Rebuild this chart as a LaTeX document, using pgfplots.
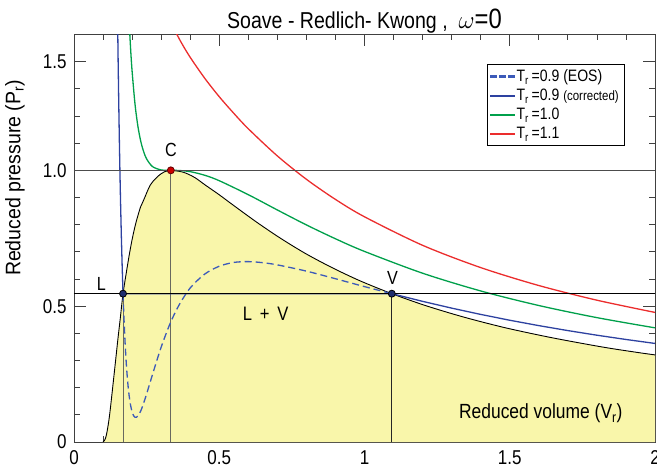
\documentclass[border=0pt]{standalone}
\usepackage{fontspec}
\setmainfont{Liberation Sans}[FakeStretch=0.85]
\newfontfamily\ylabfont{Liberation Sans}[FakeStretch=0.93]
\usepackage{pgfplots}
\pgfplotsset{compat=1.18}

\definecolor{eosblue}{RGB}{60,90,185}
\definecolor{corrblue}{RGB}{45,65,160}
\definecolor{isogreen}{RGB}{0,160,75}
\definecolor{isored}{RGB}{235,45,45}
\definecolor{domefill}{RGB}{249,246,170}
\definecolor{guide}{RGB}{105,105,95}
\definecolor{navy}{RGB}{30,45,110}

\begin{document}
\begin{tikzpicture}
  \begin{axis}[
      scale only axis, width=581pt, height=407.5pt,
      xmin=0, xmax=2, ymin=0, ymax=1.5,
      xtick={0,0.5,1,1.5,2}, minor x tick num=4,
      ytick={0,0.5,1,1.4}, yticklabels={0,0.5,1.0,1.5},
      minor ytick={0.1,0.2,0.3,0.4,0.6,0.7,0.8,0.9,1.1,1.2,1.3},
      tick align=inside,
      major tick length=12pt, minor tick length=6pt,
      every tick/.style={black!75, line width=0.8pt},
      axis line style={black!75, line width=0.9pt},
      tick label style={font=\fontsize{20}{24}\selectfont},
      /pgf/number format/assume math mode=true,
      xticklabel style={yshift=-5pt},
      yticklabel style={xshift=-4pt},
      title={Soave - Redlich- Kwong ,\ \ {\fontsize{28}{30}\selectfont$\omega$=0}},
      title style={font=\fontsize{23}{26}\selectfont, yshift=-8pt},
      legend style={at={(0.9466,0.9265)}, anchor=north east,
        font=\fontsize{16.5}{18}\selectfont,
        inner xsep=3pt, inner ysep=3pt, row sep=2pt, cells={anchor=west}},
      clip mode=individual,
    ]
    % legend samples
    \addlegendimage{legend image code/.code={
        \fill[eosblue] (0pt,-0.7pt) rectangle (6pt,0.7pt)
          (9pt,-0.7pt) rectangle (15pt,0.7pt) (18pt,-0.7pt) rectangle (24pt,0.7pt);}}
    \addlegendentry{T\textsubscript{r}\,=0.9 (EOS)}
    \addlegendimage{legend image code/.code={\fill[corrblue] (0pt,-0.7pt) rectangle (24pt,0.7pt);}}
    \addlegendentry{T\textsubscript{r}\,=0.9 {\fontsize{13.5}{15}\selectfont(corrected)}}
    \addlegendimage{legend image code/.code={\fill[isogreen] (0pt,-0.7pt) rectangle (24pt,0.7pt);}}
    \addlegendentry{T\textsubscript{r}\,=1.0}
    \addlegendimage{legend image code/.code={\fill[isored] (0pt,-0.7pt) rectangle (24pt,0.7pt);}}
    \addlegendentry{T\textsubscript{r}\,=1.1}

    % two-phase region (saturation dome)
    \pgfplotstableread{
      v p
      0.1000 0.0000
      0.1046 0.0047
      0.1120 0.0280
      0.1226 0.1000
      0.1388 0.2563
      0.1511 0.3784
      0.1591 0.4530
      0.1688 0.5460
      0.1820 0.6360
      0.1901 0.6880
      0.2000 0.7450
      0.2124 0.8040
      0.2290 0.8650
      0.2400 0.8910
      0.2620 0.9450
      0.2830 0.9720
      0.2980 0.9860
      0.3110 0.9945
      0.3333 1.0000
      0.3710 0.9945
      0.3930 0.9860
      0.4180 0.9720
      0.4530 0.9450
      0.5000 0.9100
      0.5530 0.8680
      0.6325 0.8064
      0.7130 0.7485
      0.7970 0.6937
      0.8880 0.6420
      0.9850 0.5931
      1.0940 0.5460
      1.2100 0.5022
      1.3390 0.4606
      1.4810 0.4214
      1.6420 0.3845
      1.8180 0.3498
      1.9375 0.3300
      2.0000 0.3206
    }\dome
    \addplot[draw=none, fill=domefill, forget plot] table[x=v, y=p] {\dome} \closedcycle;
    \addplot[black, line width=0.9pt, smooth, forget plot] table[x=v, y=p] {\dome};

    % guide lines
    \addplot[guide, line width=1pt, forget plot] coordinates {(0.1688,0) (0.1688,0.546)};
    \addplot[guide, line width=1pt, forget plot] coordinates {(0.3333,0) (0.3333,1.0)};
    \addplot[black!85, line width=1pt, forget plot] coordinates {(1.094,0) (1.094,0.546)};

    % isotherms
    \addplot[eosblue, dash pattern=on 7pt off 4pt, line width=1.3pt, smooth, forget plot] coordinates {
      (0.1688,0.546) (0.170,0.510) (0.175,0.384) (0.180,0.289) (0.185,0.219)
      (0.190,0.169) (0.195,0.134) (0.200,0.111) (0.205,0.097) (0.210,0.091)
      (0.215,0.091) (0.220,0.096) (0.230,0.115) (0.240,0.144) (0.250,0.177)
      (0.275,0.265) (0.300,0.349) (0.330,0.434) (0.360,0.501) (0.400,0.567)
      (0.450,0.618) (0.500,0.647) (0.550,0.661) (0.600,0.664) (0.650,0.660)
      (0.700,0.652) (0.800,0.629) (0.900,0.601) (1.000,0.572) (1.094,0.546)};
    \addplot[corrblue, line width=1.3pt, forget plot] coordinates {
      (0.150,1.561) (0.152,1.397) (0.154,1.251) (0.156,1.119) (0.158,1.001)
      (0.160,0.895) (0.163,0.757) (0.166,0.640) (0.1688,0.546) (1.094,0.546)
      (1.2,0.5177) (1.3,0.4928) (1.4,0.4696) (1.5,0.4482) (1.6,0.4284)
      (1.7,0.4101) (1.8,0.3931) (1.9,0.3774) (2.0,0.3628)};
    \addplot[isogreen, line width=1.3pt, smooth, forget plot] coordinates {
      (0.190,1.542) (0.195,1.445) (0.200,1.365) (0.210,1.244) (0.220,1.162)
      (0.230,1.106) (0.240,1.068) (0.250,1.042) (0.270,1.014) (0.300,1.0015)
      (0.3333,1.000) (0.360,0.9996) (0.400,0.9951) (0.450,0.9819) (0.500,0.9618)
      (0.600,0.9104) (0.700,0.8541) (0.800,0.7991) (0.900,0.7481) (1.000,0.7015)
      (1.200,0.6213) (1.400,0.5560) (1.600,0.5024) (1.800,0.4578) (2.000,0.4202)};
    \addplot[isored, line width=1.3pt, smooth, forget plot] coordinates {
      (0.350,1.509) (0.370,1.469) (0.400,1.416) (0.450,1.339) (0.500,1.271)
      (0.550,1.210) (0.600,1.153) (0.700,1.053) (0.800,0.967) (0.900,0.893)
      (1.000,0.829) (1.200,0.724) (1.400,0.642) (1.600,0.576) (1.800,0.522)
      (2.000,0.477)};

    % critical pressure and tie line
    \addplot[black!70, line width=1pt, forget plot] coordinates {(0,1.0) (2,1.0)};
    \addplot[black, line width=1pt, forget plot] coordinates {(0,0.546) (2,0.546)};

    % points C, L, V
    \addplot[only marks, mark=*, mark size=3.5pt, forget plot,
      mark options={fill=red!80!black, draw=black!60!red, line width=0.8pt}]
      coordinates {(0.3333,1.0)};
    \addplot[only marks, mark=*, mark size=3.5pt, forget plot,
      mark options={fill=navy, draw=black, line width=0.8pt}]
      coordinates {(0.1688,0.546) (1.094,0.546)};

    \node[anchor=base, font=\fontsize{19}{22}\selectfont] at (axis cs:0.334,1.050) {C};
    \node[anchor=base, font=\fontsize{19}{22}\selectfont] at (axis cs:0.094,0.559) {L};
    \node[anchor=base, font=\fontsize{19}{22}\selectfont] at (axis cs:1.096,0.578) {V};
    \node[anchor=base, font=\fontsize{19.5}{22}\selectfont] at (axis cs:0.660,0.449) {L\ \,+\ \,V};
    \node[anchor=base, font=\fontsize{20.5}{24}\selectfont] at (axis cs:1.607,0.085) {Reduced volume (V\textsubscript{r})};
    \node[rotate=90, font=\fontsize{21}{24}\ylabfont] at (axis cs:-0.203,0.972) {Reduced pressure (P\textsubscript{r})};

    \coordinate (sw) at (rel axis cs:0,0);
    \coordinate (ne) at (rel axis cs:1,1);
  \end{axis}
  \pgfresetboundingbox
  \path[use as bounding box] ([shift={(-74pt,-30pt)}]sw) rectangle ([shift={(2pt,34.5pt)}]ne);
\end{tikzpicture}
\end{document}
